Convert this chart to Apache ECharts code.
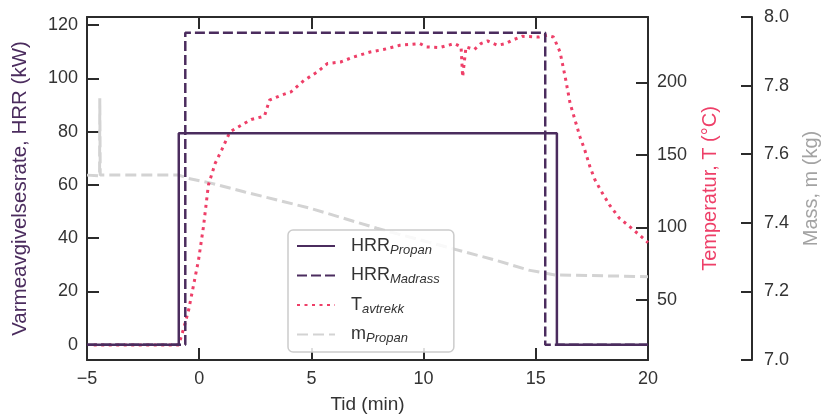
<!DOCTYPE html>
<html><head><meta charset="utf-8">
<script src="https://cdn.jsdelivr.net/npm/echarts@6/dist/echarts.min.js"></script>
<style>html,body{margin:0;padding:0;background:#fff;overflow:hidden}#c{width:829px;height:419px}</style>
</head><body><div id="c"></div>
<script>
// ---- data ----
const xTicks = [-5, 0, 5, 10, 15, 20];
const hrrTicks = [0, 20, 40, 60, 80, 100, 120];
const tempTicks = [50, 100, 150, 200];
const massTicks = [7.0, 7.2, 7.4, 7.6, 7.8, 8.0];

const hrrPropanT = [-5, -0.91, -0.91, 15.94, 15.94, 20];
const hrrPropanV = [0, 0, 79.4, 79.4, 0, 0];
const hrrMadrassT = [-5, -0.62, -0.62, 15.42, 15.42, 20];
const hrrMadrassV = [0, 0, 117.1, 117.1, 0, 0];

const tempT = [-4.7, -0.91, -0.69, -0.47, -0.25, -0.03, 0.19, 0.41, 0.71, 1.00, 1.37, 1.88, 2.32, 2.91, 3.13, 3.65, 4.09, 4.68, 5.27, 5.71, 6.30, 6.89, 7.62, 8.21, 8.94, 9.83, 10.12, 10.71, 11.37, 11.67, 11.74, 11.89, 12.26, 12.55, 12.85, 13.29, 13.66, 13.95, 14.39, 15.13, 15.50, 15.79, 16.08, 16.31, 16.53, 16.75, 16.97, 17.19, 17.41, 17.63, 17.93, 18.29, 18.73, 19.10, 19.62, 20.0];
const tempV = [19.1, 19.1, 30.6, 43.2, 60.4, 77.6, 100.5, 129.2, 144.1, 153.3, 165.9, 170.5, 174.4, 176.7, 187.7, 191.1, 193.4, 201.4, 207.2, 212.9, 214.0, 217.5, 220.9, 222.6, 225.5, 226.7, 224.4, 223.9, 226.7, 224.4, 203.7, 224.4, 222.6, 226.7, 228.5, 225.5, 226.7, 229.0, 231.7, 231.2, 232.4, 231.2, 220.9, 203.7, 185.4, 173.9, 162.4, 153.0, 142.0, 133.0, 124.6, 115.4, 106.3, 101.7, 94.8, 89.5];

const massT = [-5.0, -4.44, -4.43, -4.41, -0.91, -0.47, 0.56, 2.03, 3.50, 4.97, 7.92, 13.21, 14.68, 15.86, 20.0];
const massV = [7.539, 7.537, 7.763, 7.539, 7.539, 7.529, 7.515, 7.490, 7.466, 7.442, 7.384, 7.291, 7.262, 7.248, 7.243];

const seriesNames = ['HRR_Propan', 'HRR_Madrass', 'T_avtrekk', 'm_Propan'];

// ---- styles ----
const PURPLE = '#4b2c5e';
const PINK = '#ee3f68';
const GRAY = '#d3d3d3';
const AX = '#2b2b2b';
const FONT = 'Liberation Sans';

const zip = (a, b) => a.map((x, i) => [x, b[i]]);
const fmtX = v => v < 0 ? '\u2212' + Math.abs(v) : String(v);

const chart = echarts.init(document.getElementById('c'), null, {renderer: 'canvas', width: 829, height: 419});
const axisLine = {show: true, onZero: false, lineStyle: {color: AX, width: 2}};
const tick = {show: true, inside: true, length: 12, lineStyle: {color: AX, width: 2}};
const lbl = {color: '#333', fontSize: 18, fontFamily: FONT};

chart.setOption({
  animation: false,
  grid: {left: 87, right: 175, top: 17, bottom: 59, containLabel: false},
  legend: {
    data: seriesNames,
    orient: 'vertical',
    left: 288, top: 230,
    padding: [7, 14, 7, 8],
    itemWidth: 38, itemHeight: 14, itemGap: 10,
    backgroundColor: 'rgba(255,255,255,0.85)',
    borderColor: '#cccccc', borderWidth: 1.5, borderRadius: 5,
    itemStyle: {opacity: 0},
    formatter: function (n) {
      const p = n.split('_');
      return '{m|' + p[0] + '}{s|' + p[1] + '}';
    },
    textStyle: {
      color: '#333', fontFamily: FONT, fontSize: 18,
      rich: {
        m: {fontSize: 18, fontFamily: FONT, color: '#333', padding: [0, 0, 0, 11]},
        s: {fontSize: 13, fontStyle: 'italic', fontFamily: FONT, color: '#333', padding: [8, 0, 0, 0]}
      }
    }
  },
  xAxis: [{
    type: 'value', min: -5, max: 20, interval: 5, position: 'bottom',
    name: 'Tid (min)', nameLocation: 'middle', nameGap: 35,
    nameTextStyle: {color: '#333', fontSize: 19, fontFamily: FONT},
    axisLine: axisLine, axisTick: tick, splitLine: {show: false},
    axisLabel: Object.assign({}, lbl, {margin: 10, formatter: fmtX, customValues: xTicks})
  }, {
    type: 'value', min: -5, max: 20, interval: 5, position: 'top',
    axisLine: axisLine, axisTick: tick, splitLine: {show: false},
    axisLabel: {show: false}
  }],
  yAxis: [{
    type: 'value', min: -5.7, max: 123, position: 'left',
    name: 'Varmeavgivelsesrate, HRR (kW)', nameLocation: 'middle', nameGap: 56, nameRotate: 90,
    nameTextStyle: {color: PURPLE, fontSize: 20.5, fontFamily: FONT},
    axisLine: axisLine, splitLine: {show: false},
    axisTick: Object.assign({}, tick, {customValues: hrrTicks}),
    axisLabel: Object.assign({}, lbl, {margin: 9, customValues: hrrTicks})
  }, {
    type: 'value', min: 8.7, max: 245, position: 'right',
    name: 'Temperatur, T (°C)', nameLocation: 'middle', nameGap: 52, nameRotate: 90,
    nameTextStyle: {color: PINK, fontSize: 20, fontFamily: FONT},
    axisLine: axisLine, splitLine: {show: false},
    axisTick: Object.assign({}, tick, {customValues: tempTicks}),
    axisLabel: Object.assign({}, lbl, {margin: 9, customValues: tempTicks})
  }, {
    type: 'value', min: 7.0, max: 8.0, interval: 0.2, position: 'right', offset: 104,
    name: 'Mass, m (kg)', nameLocation: 'middle', nameGap: 49, nameRotate: 90,
    nameTextStyle: {color: '#a3a3a3', fontSize: 20, fontFamily: FONT},
    axisLine: axisLine, splitLine: {show: false},
    axisTick: Object.assign({}, tick, {length: 11, customValues: massTicks}),
    axisLabel: Object.assign({}, lbl, {margin: 12, customValues: massTicks, formatter: v => Number(v).toFixed(1)})
  }],
  series: [{
    name: seriesNames[3], type: 'line', yAxisIndex: 2, data: zip(massT, massV),
    showSymbol: false, symbol: 'none', z: 1,
    lineStyle: {color: GRAY, width: 3, type: [11, 5]}, itemStyle: {color: GRAY}
  }, {
    name: seriesNames[0], type: 'line', yAxisIndex: 0, data: zip(hrrPropanT, hrrPropanV),
    showSymbol: false, symbol: 'none', z: 3,
    lineStyle: {color: PURPLE, width: 2.5, type: 'solid'}, itemStyle: {color: PURPLE}
  }, {
    name: seriesNames[1], type: 'line', yAxisIndex: 0, data: zip(hrrMadrassT, hrrMadrassV),
    showSymbol: false, symbol: 'none', z: 3,
    lineStyle: {color: PURPLE, width: 2.5, type: [10, 4]}, itemStyle: {color: PURPLE}
  }, {
    name: seriesNames[2], type: 'line', yAxisIndex: 1, data: zip(tempT, tempV),
    showSymbol: false, symbol: 'none', z: 2,
    lineStyle: {color: PINK, width: 3, type: [3, 4.5]}, itemStyle: {color: PINK}
  }]
});
</script></body></html>
